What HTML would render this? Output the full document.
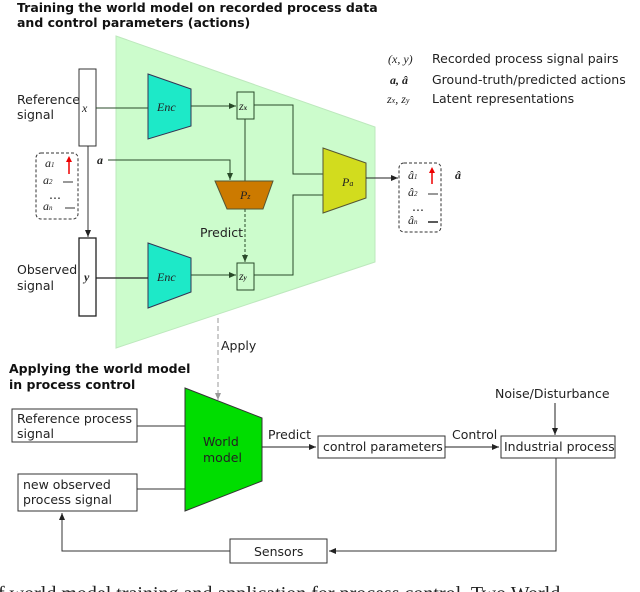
<!DOCTYPE html>
<html><head><meta charset="utf-8"><style>
html,body{margin:0;padding:0;background:#fff;width:640px;height:592px;overflow:hidden}
svg{display:block}
.s{font-family:"DejaVu Sans","Liberation Sans",sans-serif;font-size:12.5px;fill:#222}
.m{font-family:"Liberation Serif",serif;font-style:italic;font-size:12px;fill:#222}
.b{font-family:"DejaVu Sans","Liberation Sans",sans-serif;font-size:12.5px;font-weight:bold;fill:#111}
</style></head><body>
<svg width="640" height="592" viewBox="0 0 640 592" xmlns="http://www.w3.org/2000/svg">
<defs>
<marker id="ar" markerWidth="8" markerHeight="8" refX="7" refY="4" orient="auto" markerUnits="userSpaceOnUse"><path d="M0,1 L7,4 L0,7 z" fill="#222"/></marker>
<marker id="ag" markerWidth="8" markerHeight="8" refX="7" refY="4" orient="auto" markerUnits="userSpaceOnUse"><path d="M0,1 L7,4 L0,7 z" fill="#2a4a2a"/></marker>
<marker id="agr" markerWidth="8" markerHeight="8" refX="7" refY="4" orient="auto" markerUnits="userSpaceOnUse"><path d="M0,1 L7,4 L0,7 z" fill="#999"/></marker>
</defs>
<text class="b" x="17" y="12">Training the world model on recorded process data</text>
<text class="b" x="17" y="27">and control parameters (actions)</text>

<polygon points="116,36 375,127 375,262 116,348" fill="#ccfccc" stroke="#bde8bd"/>

<!-- legend -->
<text class="m" x="388" y="63">(x, y)</text>
<text class="s" x="432" y="63">Recorded process signal pairs</text>
<text class="m" x="390" y="84" font-weight="bold">a, â</text>
<text class="s" x="432" y="84">Ground-truth/predicted actions</text>
<text class="m" x="387" y="103">z<tspan font-size="8">x</tspan>, z<tspan font-size="8">y</tspan></text>
<text class="s" x="432" y="103">Latent representations</text>

<!-- left labels -->
<text class="s" x="17" y="104">Reference</text>
<text class="s" x="17" y="119">signal</text>
<text class="s" x="17" y="274">Observed</text>
<text class="s" x="17" y="290">signal</text>

<rect x="79" y="69" width="17" height="77" fill="#fff" stroke="#333"/>
<text class="m" x="82" y="112">x</text>
<rect x="79" y="238" width="17" height="78" fill="#fff" stroke="#222" stroke-width="1.3"/>
<text class="m" x="84" y="281" font-weight="bold">y</text>
<line x1="88" y1="146" x2="88" y2="237" stroke="#333" marker-end="url(#ar)"/>

<!-- action box left -->
<rect x="36" y="153" width="42" height="66" rx="5" fill="#fff" stroke="#333" stroke-dasharray="3,2"/>
<text class="m" x="45" y="167" font-size="10">a<tspan font-size="7">1</tspan></text>
<line x1="69" y1="174" x2="69" y2="160" stroke="#e00" stroke-width="1.5"/><path d="M66,162 L69,156 L72,162z" fill="#e00"/>
<text class="m" x="43" y="184" font-size="10">a<tspan font-size="7">2</tspan></text>
<line x1="63" y1="182" x2="73" y2="182" stroke="#333"/>
<text class="s" x="49" y="199" font-size="10">...</text>
<text class="m" x="43" y="210" font-size="10">a<tspan font-size="7">n</tspan></text>
<line x1="65" y1="208" x2="75" y2="208" stroke="#333"/>

<!-- Enc -->
<polygon points="148,74 191,89 191,126 148,139" fill="#1de9c8" stroke="#335"/>
<text class="m" x="157" y="111" fill="#444">Enc</text>
<polygon points="148,243 191,258 191,292 148,308" fill="#1de9c8" stroke="#335"/>
<text class="m" x="157" y="281" fill="#444">Enc</text>
<line x1="96" y1="108" x2="148" y2="108" stroke="#2a4a2a"/>
<line x1="96" y1="278" x2="148" y2="278" stroke="#222" stroke-width="1.3"/>
<line x1="191" y1="106" x2="236" y2="106" stroke="#2a4a2a" marker-end="url(#ag)"/>
<line x1="191" y1="275" x2="236" y2="275" stroke="#2a4a2a" marker-end="url(#ag)"/>

<rect x="237" y="92" width="17" height="27" fill="#ccfccc" stroke="#2a4a2a"/>
<text class="m" x="239" y="110" font-size="11">z<tspan font-size="7" font-weight="bold">x</tspan></text>
<rect x="237" y="263" width="17" height="27" fill="#ccfccc" stroke="#2a4a2a"/>
<text class="m" x="239" y="280" font-size="11">z<tspan font-size="7" font-weight="bold">y</tspan></text>

<!-- a line -->
<text class="m" x="97" y="164" font-weight="bold">a</text>
<polyline points="108,160 230,160 230,180" fill="none" stroke="#2a4a2a" marker-end="url(#ag)"/>
<line x1="245" y1="119" x2="245" y2="181" stroke="#2a4a2a"/>
<polygon points="215,181 273,181 263,209 227,209" fill="#cc7a00" stroke="#553"/>
<text class="m" x="240" y="199" font-size="12">P<tspan font-size="8">z</tspan></text>
<line x1="245" y1="209" x2="245" y2="262" stroke="#2a4a2a" stroke-dasharray="3,2" marker-end="url(#ag)"/>
<text class="s" x="200" y="237">Predict</text>

<!-- Pa -->
<polyline points="254,105 293,105 293,174 323,174" fill="none" stroke="#2a4a2a"/>
<polyline points="254,275 293,275 293,195 323,195" fill="none" stroke="#2a4a2a"/>
<polygon points="323,148 366,163 366,198 323,213" fill="#d2dc1e" stroke="#553"/>
<text class="m" x="342" y="186" font-size="12">P<tspan font-size="8">a</tspan></text>
<line x1="366" y1="178" x2="398" y2="178" stroke="#222" marker-end="url(#ar)"/>

<!-- action box right -->
<rect x="399" y="163" width="42" height="69" rx="5" fill="#fff" stroke="#333" stroke-dasharray="3,2"/>
<text class="m" x="408" y="179" font-size="10">â<tspan font-size="7">1</tspan></text>
<line x1="432" y1="184" x2="432" y2="171" stroke="#e00" stroke-width="1.5"/><path d="M429,173 L432,167 L435,173z" fill="#e00"/>
<text class="m" x="408" y="196" font-size="10">â<tspan font-size="7">2</tspan></text>
<line x1="428" y1="194" x2="438" y2="194" stroke="#333"/>
<text class="s" x="412" y="211" font-size="10">...</text>
<text class="m" x="408" y="224" font-size="10">â<tspan font-size="7">n</tspan></text>
<line x1="428" y1="222" x2="438" y2="222" stroke="#222" stroke-width="1.5"/>
<text class="m" x="455" y="179" font-weight="bold">â</text>

<!-- Apply -->
<line x1="218" y1="318" x2="218" y2="400" stroke="#999" stroke-dasharray="5,3" marker-end="url(#agr)"/>
<text class="s" x="221" y="350">Apply</text>

<text class="b" x="9" y="373">Applying the world model</text>
<text class="b" x="9" y="389">in process control</text>

<rect x="12" y="409" width="125" height="33" fill="#fff" stroke="#333"/>
<text class="s" x="17" y="423">Reference process</text>
<text class="s" x="17" y="438">signal</text>
<rect x="18" y="474" width="119" height="37" fill="#fff" stroke="#333"/>
<text class="s" x="23" y="489">new observed</text>
<text class="s" x="23" y="504">process signal</text>
<line x1="137" y1="426" x2="185" y2="426" stroke="#333"/>
<line x1="137" y1="489" x2="185" y2="489" stroke="#333"/>

<polygon points="185,388 262,418 262,481 185,511" fill="#00dd00" stroke="#333"/>
<text class="s" x="203" y="446">World</text>
<text class="s" x="203" y="462">model</text>

<line x1="262" y1="447" x2="316" y2="447" stroke="#222" marker-end="url(#ar)"/>
<text class="s" x="268" y="439">Predict</text>
<rect x="318" y="436" width="127" height="22" fill="#fff" stroke="#333"/>
<text class="s" x="323" y="451">control parameters</text>
<line x1="445" y1="447" x2="499" y2="447" stroke="#222" marker-end="url(#ar)"/>
<text class="s" x="452" y="439">Control</text>
<rect x="501" y="436" width="114" height="22" fill="#fff" stroke="#333"/>
<text class="s" x="504" y="451">Industrial process</text>
<text class="s" x="495" y="398">Noise/Disturbance</text>
<line x1="555" y1="403" x2="555" y2="435" stroke="#222" marker-end="url(#ar)"/>

<polyline points="556,458 556,551 329,551" fill="none" stroke="#333" marker-end="url(#ar)"/>
<rect x="230" y="539" width="97" height="24" fill="#fff" stroke="#333"/>
<text class="s" x="254" y="556">Sensors</text>
<polyline points="230,551 62,551 62,513" fill="none" stroke="#333" marker-end="url(#ar)"/>

<text x="-2" y="600" font-family="Liberation Serif,serif" font-size="20" fill="#222">f world model training and application for process control. Two World</text>
</svg>
</body></html>
